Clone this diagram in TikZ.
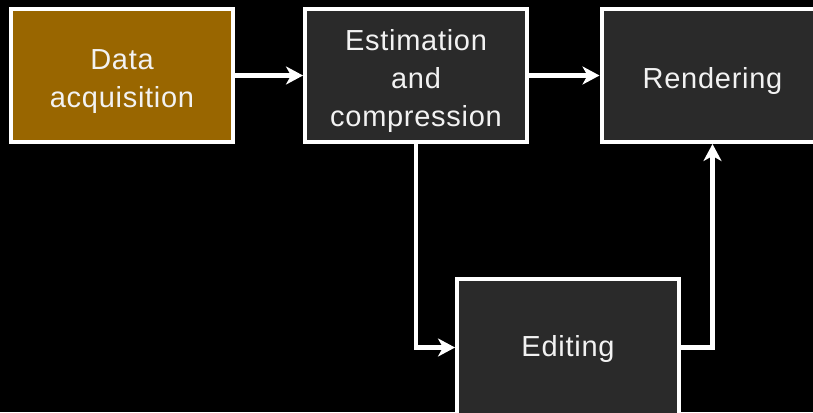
\documentclass[tikz,border=0pt]{standalone}
\usepackage{fontspec}
\setmainfont{Liberation Sans}[LetterSpace=2.5]
\usetikzlibrary{arrows.meta}

\definecolor{stagebg}{HTML}{2A2A2A}
\definecolor{inputbg}{HTML}{996600}
\definecolor{labeltext}{HTML}{F2F2F2}

% centred, stacked label, lowered by #1 while keeping its reported size
\newcommand{\stagelabel}[2]{\raisebox{#1}[\height][\depth]{\begin{tabular}{@{}c@{}}#2\end{tabular}}}

\tikzset{
  stagebox/.style={draw=white, line width=4pt, fill=stagebg, rectangle,
    minimum width=222pt, minimum height=133pt, inner sep=0pt,
    text=labeltext,
    font=\fontsize{29}{38}\selectfont},
  inputbox/.style={stagebox, fill=inputbg},
  flow/.style={draw=white, line width=4.3pt,
    -{Stealth[length=17pt, width=18pt, inset=5pt]}}
}

\begin{document}
\begin{tikzpicture}[x=1pt, y=-1pt]
  \fill[black] (0,0) rectangle (813,412);
  \useasboundingbox (0,0) rectangle (813,412);

  \node[inputbox] (data) at (122,75.5) {\stagelabel{-5.5pt}{Data\\acquisition}};
  \node[stagebox] (est)  at (416,75.5) {\stagelabel{-5.5pt}{Estimation\\and\\compression}};
  \node[stagebox] (rend) at (712.5,75.5) {\stagelabel{-5pt}{Rendering}};
  \node[stagebox, minimum height=137pt] (edit) at (568,347.5) {\stagelabel{-1.5pt}{Editing}};

  \draw[flow] (data.east) -- (est.west);
  \draw[flow] (est.east) -- (rend.west);
  \draw[flow] (est.south) |- (edit.west);
  \draw[flow] (edit.east) -| (rend.south);
\end{tikzpicture}
\end{document}
